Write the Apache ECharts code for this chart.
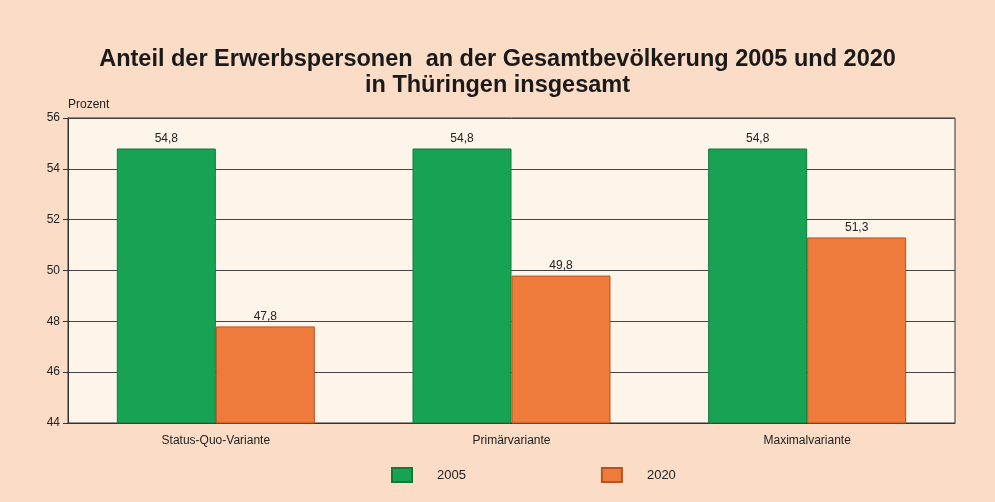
<!DOCTYPE html>
<html><head><meta charset="utf-8">
<script src="https://cdn.jsdelivr.net/npm/echarts@6/dist/echarts.min.js"></script>
<style>html,body{margin:0;padding:0;background:#fbdcc6;}#c{width:995px;height:502px;}</style>
</head><body><div id="c"></div>
<script>
const categories = ['Status-Quo-Variante', 'Primärvariante', 'Maximalvariante'];
const values2005 = [54.8, 54.8, 54.8];
const values2020 = [47.8, 49.8, 51.3];
const yTicks = [44, 46, 48, 50, 52, 54, 56];

const chart = echarts.init(document.getElementById('c'));
const fmt = p => p.value.toFixed(1).replace('.', ',');
chart.setOption({
  backgroundColor: '#fbdcc6',
  animation: false,
  title: {
    text: 'Anteil der Erwerbspersonen  an der Gesamtbevölkerung 2005 und 2020\nin Thüringen insgesamt',
    left: 'center', top: 42,
    textStyle: { fontFamily: 'Liberation Sans', fontWeight: 'bold', fontSize: 23.5, color: '#1a1a1a', lineHeight: 26 }
  },
  legend: {
    top: 462, left: 386, itemGap: 135, itemWidth: 20, itemHeight: 14, icon: 'rect',
    textStyle: { fontFamily: 'Liberation Sans', fontSize: 13, color: '#222', padding: [0, 0, 0, 20] },
    data: ['2005', '2020']
  },
  grid: { left: 68, right: 40, top: 118, bottom: 79, show: true, backgroundColor: '#fdf4ea', borderColor: '#333', borderWidth: 1 },
  xAxis: {
    type: 'category', data: categories,
    axisLine: { lineStyle: { color: '#333' } }, axisTick: { show: false },
    axisLabel: { fontFamily: 'Liberation Sans', fontSize: 12, color: '#222', margin: 12 }
  },
  yAxis: {
    type: 'value', min: yTicks[0], max: yTicks[yTicks.length - 1], interval: 2,
    name: 'Prozent', nameGap: 7,
    nameTextStyle: { fontFamily: 'Liberation Sans', fontSize: 12, color: '#222', align: 'left', padding: [0, 0, 0, 0] },
    axisLine: { show: true, lineStyle: { color: '#333' } },
    axisTick: { show: true, length: 5, lineStyle: { color: '#333' } },
    axisLabel: { fontFamily: 'Liberation Sans', fontSize: 12, color: '#222', margin: 8 },
    splitLine: { lineStyle: { color: '#444', width: 1 } }
  },
  series: [
    { name: '2005', type: 'bar', data: values2005, barWidth: 99, barGap: '0%',
      itemStyle: { color: '#18a253', borderColor: '#0f7a3a', borderWidth: 1 },
      label: { show: true, position: 'top', distance: 4, formatter: fmt, fontFamily: 'Liberation Sans', fontSize: 12, color: '#222' } },
    { name: '2020', type: 'bar', data: values2020, barWidth: 99,
      itemStyle: { color: '#ee7b3b', borderColor: '#b5541f', borderWidth: 1 },
      label: { show: true, position: 'top', distance: 4, formatter: fmt, fontFamily: 'Liberation Sans', fontSize: 12, color: '#222' } }
  ]
});
</script></body></html>
